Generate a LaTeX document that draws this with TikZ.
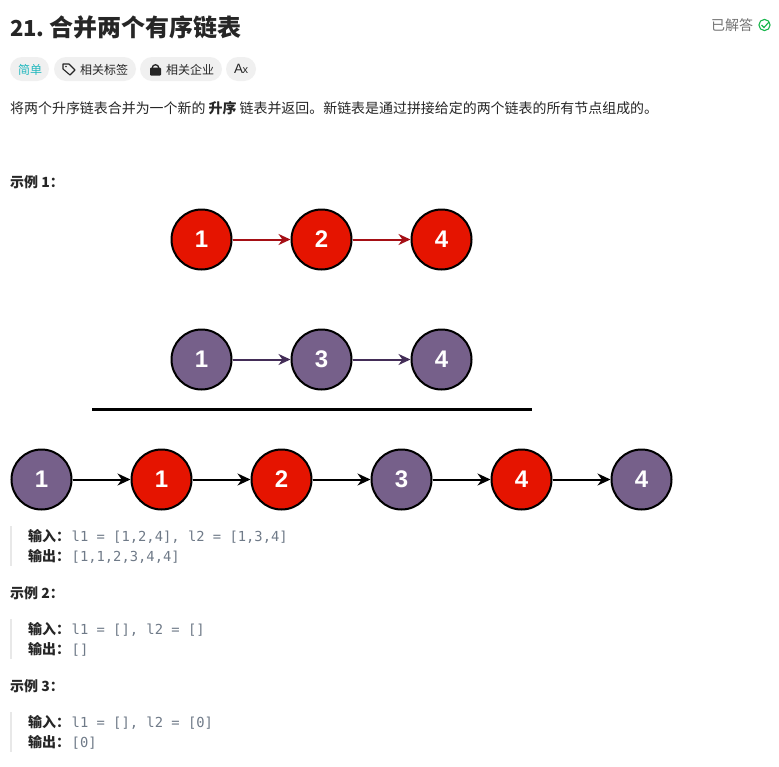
\documentclass[tikz,border=0pt]{standalone}
\usepackage{fontspec}
\setmainfont{Noto Sans CJK SC}
\newfontfamily\latinbold[Scale=1]{Liberation Sans}
\newfontfamily\codefont{DejaVu Sans Mono}
\usetikzlibrary{arrows.meta}
\definecolor{redfill}{HTML}{E51400}
\definecolor{purplefill}{HTML}{76608A}
\definecolor{redline}{HTML}{A50F15}
\definecolor{purpleline}{HTML}{432D57}
\definecolor{inktext}{HTML}{262626}
\definecolor{pillbg}{HTML}{F0F0F0}
\definecolor{codegray}{HTML}{6F7A88}
\definecolor{tealtext}{HTML}{22B8BE}
\definecolor{quotebar}{HTML}{E8E8E8}
\definecolor{donegreen}{HTML}{16B64A}
\tikzset{
  listnode/.style={circle,draw=black,line width=2pt,minimum size=60pt,inner sep=0pt,text=white,font=\latinbold\bfseries\fontsize{24}{26}\selectfont},
  rednode/.style={listnode,fill=redfill},
  purplenode/.style={listnode,fill=purplefill},
  linkred/.style={-{Stealth[length=12pt,width=11pt]},redline,line width=2pt},
  linkpurple/.style={-{Stealth[length=12pt,width=11pt]},purpleline,line width=2pt},
  linkblack/.style={-{Stealth[length=13pt,width=12pt]},black,line width=2pt},
  pill/.style={fill=pillbg,rounded corners=12pt,draw=none},
  bodytext/.style={anchor=west,inner sep=0pt,text=inktext,font=\fontsize{13.95}{16}\selectfont},
  tagtext/.style={anchor=west,inner sep=0pt,text=inktext,font=\fontsize{12}{14}\selectfont},
  boldtext/.style={anchor=west,inner sep=0pt,text=inktext,font=\bfseries\fontsize{14}{16}\selectfont},
  codetext/.style={anchor=west,inner sep=0pt,text=codegray,font=\codefont\fontsize{13.8}{15}\selectfont},
  quotebarline/.style={quotebar,line width=2pt},
}
\begin{document}
\begin{tikzpicture}[x=1pt,y=-1pt]
\useasboundingbox[fill=white] (0,0) rectangle (779,766);
% header
\node[anchor=west,inner sep=0pt,text=inktext,font=\bfseries\fontsize{24}{26}\selectfont] (title) at (10,27.5) {{\fontsize{22}{26}\selectfont 21.}\kern5pt 合并两个有序链表};
\node[anchor=west,inner sep=0pt,text=black!55,font=\fontsize{14}{16}\selectfont] (solved) at (711,25.5) {已解答};
\draw[donegreen,line width=1.1pt] (764.5,25) circle (5.6);
\draw[donegreen,line width=1.1pt] (761.5,25) -- (764,27.5) -- (769,22);
% pills
\fill[pill] (10,57) rectangle (49,81);
\fill[pill] (54,57) rectangle (136,81);
\fill[pill] (140,57) rectangle (222,81);
\fill[pill] (226,57) rectangle (256,81);
\node[anchor=west,inner sep=0pt,text=tealtext,font=\fontsize{12}{14}\selectfont] (tagEasy) at (18,69.5) {简单};
\draw[inktext,line width=1.1pt,line join=round] (63,64) -- (69,64) -- (75,70) -- (70,75) -- (63,69) -- cycle;
\fill[inktext] (66,66.5) circle (0.9);
\node[tagtext] (tagTopics) at (80,69.5) {相关标签};
\draw[inktext,line width=1.3pt] (152.2,68) arc[start angle=180,end angle=360,radius=3.3];
\fill[inktext,rounded corners=1pt] (150,67.5) rectangle (161,75.5);
\node[tagtext] (tagCompanies) at (166,69.5) {相关企业};
\node[anchor=center,inner sep=0pt,text=inktext,font=\latinbold\fontsize{13.5}{15}\selectfont] (tagLang) at (241,69) {A\kern-0.5pt{\fontsize{11}{12}\selectfont x}};
% description
\node[bodytext] (desc) at (10,108.5) {将两个升序链表合并为一个新的 \textbf{升序} 链表并返回。新链表是通过拼接给定的两个链表的所有节点组成的。};
\node[boldtext] (ex1) at (10,182) {示例 1：};
% row 1
\node[rednode] (a1) at (201.5,239.5) {1};
\node[rednode] (a2) at (321.5,239.5) {2};
\node[rednode] (a3) at (441.5,239.5) {4};
\draw[linkred] (a1) -- (a2);
\draw[linkred] (a2) -- (a3);
% row 2
\node[purplenode] (b1) at (201.5,359.5) {1};
\node[purplenode] (b2) at (321.5,359.5) {3};
\node[purplenode] (b3) at (441.5,359.5) {4};
\draw[linkpurple] (b1) -- (b2);
\draw[linkpurple] (b2) -- (b3);
% rule
\coordinate (ruleL) at (92,409.5);
\coordinate (ruleR) at (531.5,409.5);
\draw[black,line width=2.2pt] (ruleL) -- (ruleR);
% row 3
\node[purplenode] (c1) at (41.5,479.5) {1};
\node[rednode] (c2) at (161.5,479.5) {1};
\node[rednode] (c3) at (281.5,479.5) {2};
\node[purplenode] (c4) at (401.5,479.5) {3};
\node[rednode] (c5) at (521.5,479.5) {4};
\node[purplenode] (c6) at (641.5,479.5) {4};
\draw[linkblack] (c1) -- (c2);
\draw[linkblack] (c2) -- (c3);
\draw[linkblack] (c3) -- (c4);
\draw[linkblack] (c4) -- (c5);
\draw[linkblack] (c5) -- (c6);
% example 1
\draw[quotebarline] (11,526) -- (11,566);
\node[boldtext] (in1) at (28,536.5) {输入：};
\node[codetext] (in1v) at (71.5,537) {l1 = [1,2,4], l2 = [1,3,4]};
\node[boldtext] (out1) at (28,556.5) {输出：};
\node[codetext] (out1v) at (71.5,557) {[1,1,2,3,4,4]};
% example 2
\node[boldtext] (ex2) at (10,593.5) {示例 2：};
\draw[quotebarline] (11,619) -- (11,659);
\node[boldtext] (in2) at (28,629.5) {输入：};
\node[codetext] (in2v) at (71.5,630) {l1 = [], l2 = []};
\node[boldtext] (out2) at (28,649.5) {输出：};
\node[codetext] (out2v) at (71.5,650) {[]};
% example 3
\node[boldtext] (ex3) at (10,686.5) {示例 3：};
\draw[quotebarline] (11,712) -- (11,752);
\node[boldtext] (in3) at (28,722.5) {输入：};
\node[codetext] (in3v) at (71.5,723) {l1 = [], l2 = [0]};
\node[boldtext] (out3) at (28,742.5) {输出：};
\node[codetext] (out3v) at (71.5,743) {[0]};
\end{tikzpicture}
\end{document}
